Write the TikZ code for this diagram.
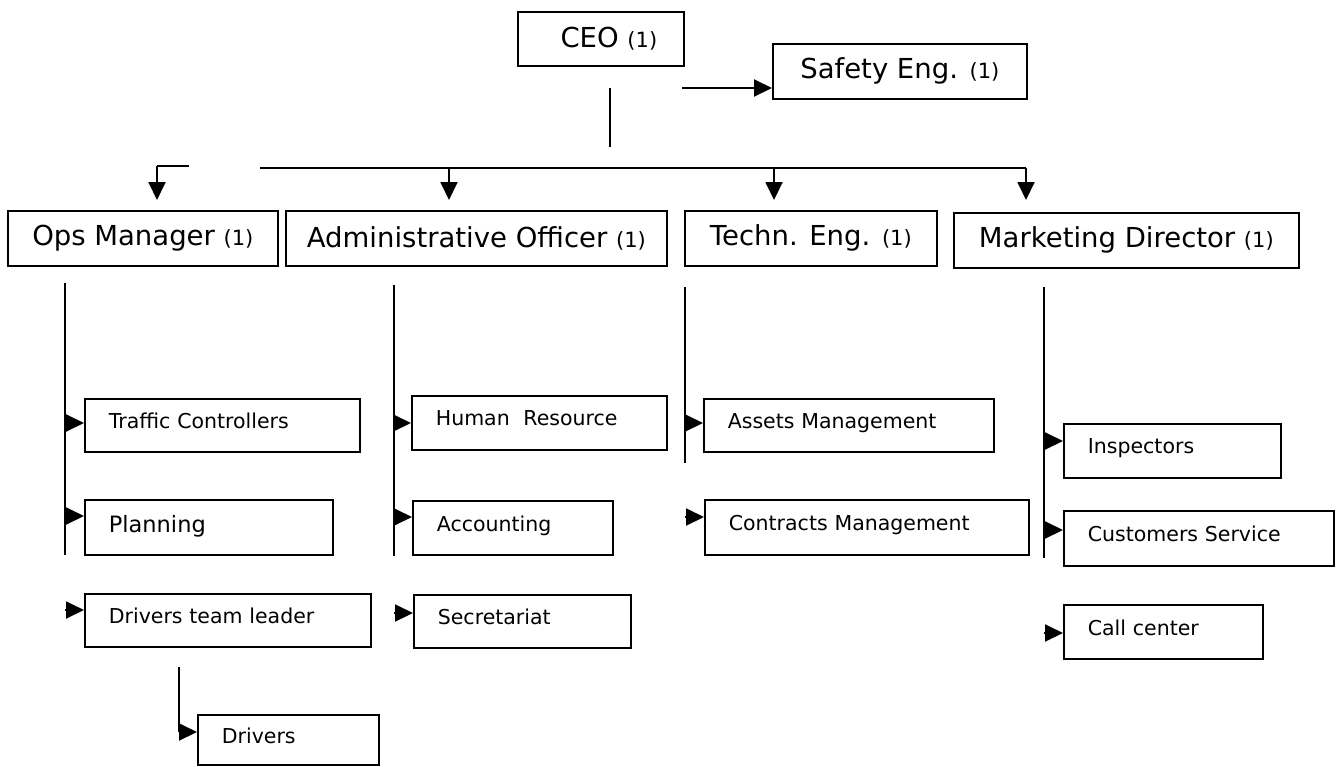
\documentclass[tikz,border=0pt]{standalone}
\usepackage{fontspec}
\setmainfont{DejaVu Sans}
\usetikzlibrary{arrows.meta}
\newcommand\one{{\fontsize{21}{24}\selectfont(1)}}
\begin{document}
\begin{tikzpicture}[
  x=1pt, y=-1pt,
  boxbase/.style={draw, line width=1.7pt, anchor=north west, inner sep=0pt},
  topbox/.style={boxbase, font=\fontsize{27.5}{32}\selectfont},
  subbox/.style={boxbase, font=\fontsize{20.5}{24}\selectfont, align=left, inner xsep=24pt, text depth=9pt},
  conn/.style={line width=1.9pt},
  arr/.style={conn, -{Triangle[length=18pt,width=17pt]}},
]
\useasboundingbox (0,0) rectangle (1337,766);

% top level
\node[topbox, minimum width=166pt, minimum height=54pt] (ceo) at (517,11) {\hspace*{16pt}CEO \one};
\node[topbox, minimum width=254pt, minimum height=55pt] (saf) at (772,43) {Safety Eng. \one};

% second level
\node[topbox, minimum width=270pt, minimum height=55pt] (ops) at (7,210) {Ops Manager \one};
\node[topbox, minimum width=381pt, minimum height=55pt] (adm) at (285,210) {Administrative Officer \one};
\node[topbox, minimum width=252pt, minimum height=55pt] (tec) at (684,210) {Techn. Eng. \one};
\node[topbox, minimum width=345pt, minimum height=55pt] (mkt) at (953,212) {Marketing Director \one};

% third level
\node[subbox, text width=227pt, minimum height=53pt] (tc) at (84,398) {Traffic Controllers};
\node[subbox, text width=200pt, minimum height=55pt, font=\fontsize{22.5}{26}\selectfont, text depth=6pt] (pl) at (84,499) {Planning};
\node[subbox, text width=238pt, minimum height=53pt] (dtl) at (84,593) {Drivers team leader};
\node[subbox, text width=133pt, minimum height=50pt] (drv) at (197,714) {Drivers};

\node[subbox, text width=207pt, minimum height=54pt] (hr) at (411,395) {Human\ \ Resource};
\node[subbox, text width=152pt, minimum height=54pt] (acc) at (412,500) {Accounting};
\node[subbox, text width=169pt, minimum height=53pt] (sec) at (413,594) {Secretariat};

\node[subbox, text width=242pt, minimum height=53pt] (am) at (703,398) {Assets Management};
\node[subbox, text width=276pt, minimum height=55pt] (cm) at (704,499) {Contracts Management};

\node[subbox, text width=169pt, minimum height=54pt] (insp) at (1063,423) {Inspectors};
\node[subbox, text width=222pt, minimum height=55pt] (cs) at (1063,510) {Customers Service};
\node[subbox, text width=151pt, minimum height=54pt] (cc) at (1063,604) {Call center};

% CEO connectors
\coordinate (s0) at (682,88);
\draw[arr] (s0) -- (s0 -| saf.west);
\coordinate (v0) at (610,88);
\coordinate (v1) at (610,147);
\draw[conn] (v0) -- (v1);

% bus
\coordinate (bs0) at (157,166);
\coordinate (bs1) at (189,166);
\coordinate (bL) at (260,168);
\coordinate (b2) at (449,168);
\coordinate (b3) at (774,168);
\coordinate (b4) at (1026,168);
\draw[conn] (bs0) -- (bs1);
\draw[conn] (bL) -- (b4);
\draw[arr, shorten >=10pt] (bs0) -- (bs0 |- ops.north);
\draw[arr, shorten >=10pt] (b2) -- (b2 |- adm.north);
\draw[arr, shorten >=10pt] (b3) -- (b3 |- tec.north);
\draw[arr, shorten >=12pt] (b4) -- (b4 |- mkt.north);

% vertical lines under second level
\draw[conn] (65,283) -- (65,555);
\draw[conn] (394,285) -- (394,556);
\draw[conn] (685,287) -- (685,463);
\draw[conn] (1044,287) -- (1044,558);

% side arrows
\coordinate (a1) at (65,423);  \draw[arr] (a1) -- (a1 -| tc.west);
\coordinate (a2) at (65,516);  \draw[arr] (a2) -- (a2 -| pl.west);
\coordinate (a3) at (65,610);  \draw[arr] (a3) -- (a3 -| dtl.west);
\coordinate (a4) at (394,423); \draw[arr] (a4) -- (a4 -| hr.west);
\coordinate (a5) at (394,517); \draw[arr] (a5) -- (a5 -| acc.west);
\coordinate (a6) at (394,613); \draw[arr] (a6) -- (a6 -| sec.west);
\coordinate (a7) at (685,423); \draw[arr] (a7) -- (a7 -| am.west);
\coordinate (a8) at (685,517); \draw[arr] (a8) -- (a8 -| cm.west);
\coordinate (a9) at (1044,441); \draw[arr] (a9) -- (a9 -| insp.west);
\coordinate (a10) at (1044,530); \draw[arr] (a10) -- (a10 -| cs.west);
\coordinate (a11) at (1044,633); \draw[arr] (a11) -- (a11 -| cc.west);

% drivers
\coordinate (d0) at (179,667);
\coordinate (d1) at (179,732);
\draw[conn] (d0) -- (d1);
\draw[arr] (d1) -- (d1 -| drv.west);
\end{tikzpicture}
\end{document}
